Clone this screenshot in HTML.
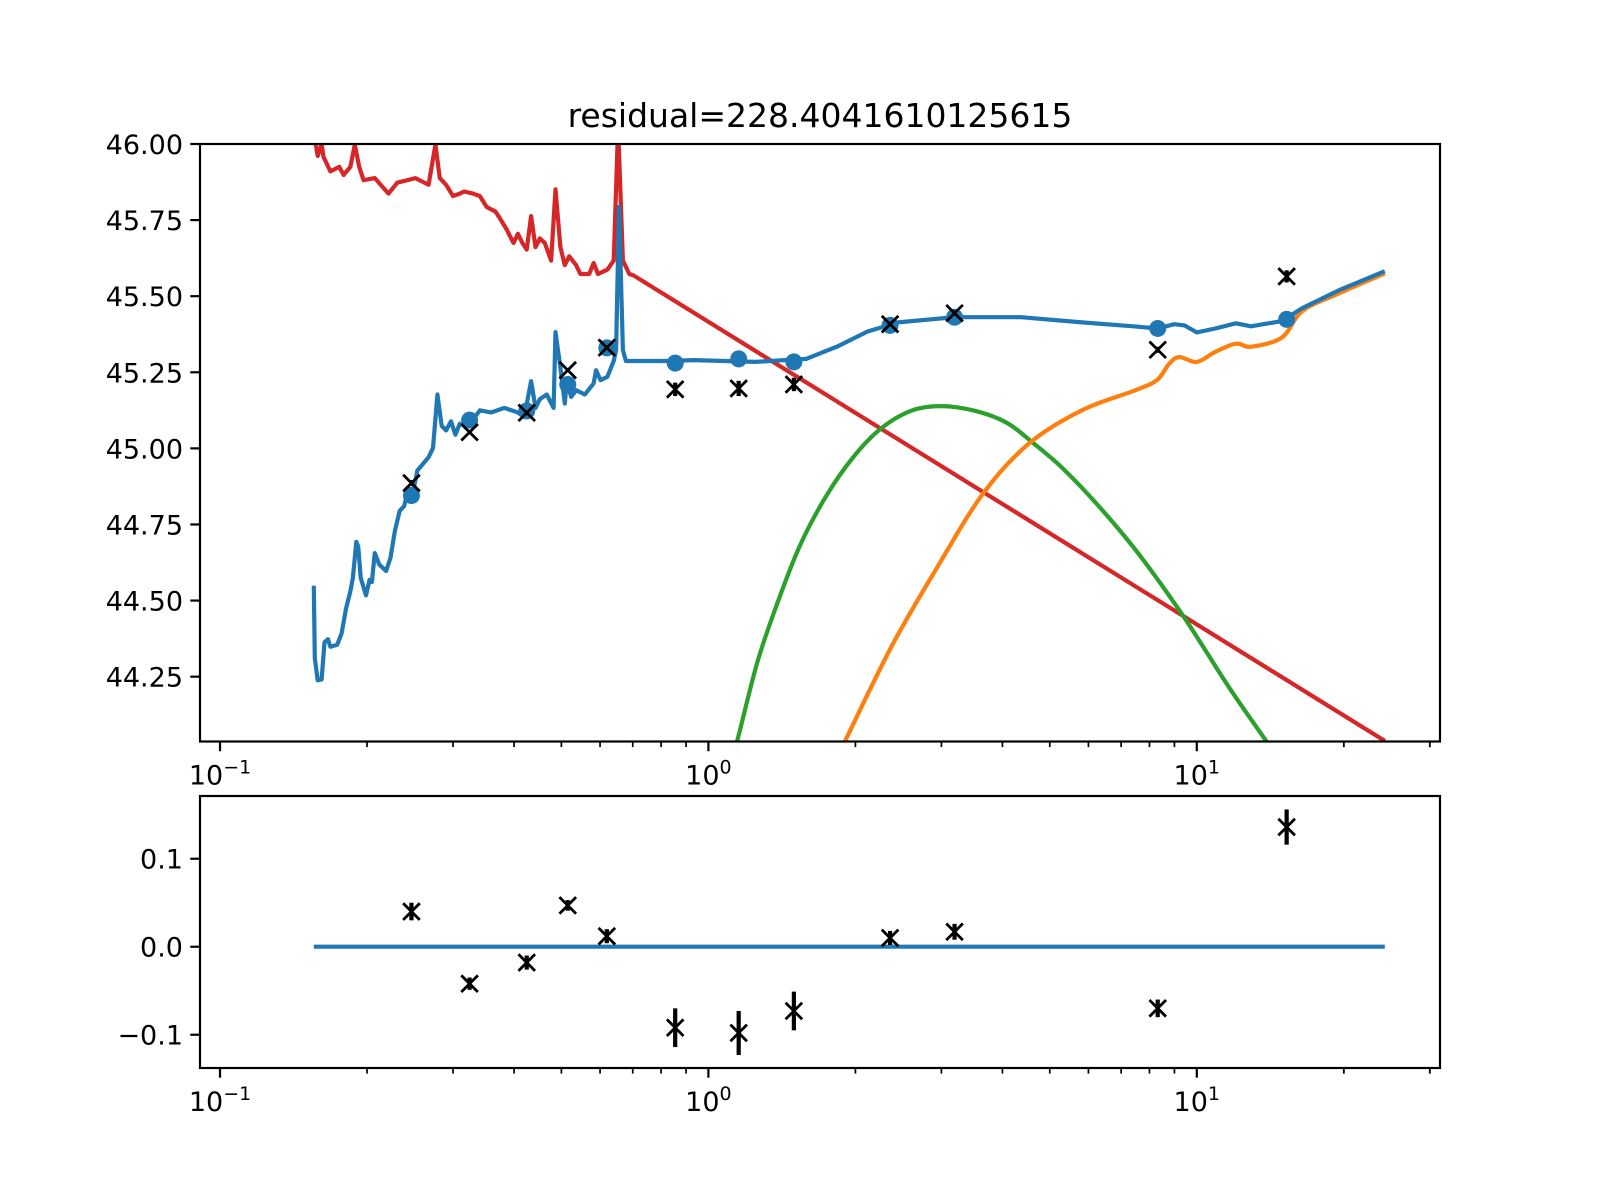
<!DOCTYPE html>
<html><head><meta charset="utf-8">
<style>
html,body{margin:0;padding:0;background:#fff;}
svg{display:block;font-family:"DejaVu Sans","Liberation Sans",sans-serif;}
</style></head>
<body>
<svg id="fig" width="1600" height="1200" viewBox="0 0 1600 1200" xmlns="http://www.w3.org/2000/svg">
<rect width="1600" height="1200" fill="#fff"/>
<defs>
<clipPath id="clipMain"><rect x="200" y="144" width="1240" height="597.5"/></clipPath>
<clipPath id="clipLow"><rect x="200" y="796" width="1240" height="272"/></clipPath>
</defs>
<text x="820" y="127" font-size="33" text-anchor="middle">residual=228.4041610125615</text>
<g id="main"></g>
<g id="low"></g>
</svg>
<script>
// ---- data (x stored as log10 of wavelength) ----
const pointLogX = [-0.608,-0.489,-0.372,-0.288,-0.208,-0.068,0.062,0.175,0.372,0.504,0.920,1.184];
const modelY = [44.845,45.093,45.123,45.21,45.33,45.28,45.294,45.284,45.404,45.431,45.394,45.424];
const obsY = [44.886,45.053,45.117,45.257,45.331,45.194,45.197,45.21,45.408,45.444,45.324,45.565];
const residY = [0.04,-0.042,-0.018,0.047,0.012,-0.092,-0.098,-0.073,0.01,0.017,-0.07,0.136];
const errY = [0.01,0.007,0.008,0.006,0.008,0.022,0.025,0.022,0.008,0.009,0.01,0.02];

const blueLogX = [-0.808,-0.806,-0.800,-0.792,-0.786,-0.779,-0.774,-0.760,-0.751,-0.742,-0.733,-0.728,-0.721,-0.717,-0.712,-0.701,-0.694,-0.689,-0.683,-0.674,-0.660,-0.651,-0.642,-0.632,-0.623,-0.614,-0.605,-0.596,-0.573,-0.564,-0.555,-0.546,-0.537,-0.527,-0.518,-0.509,-0.491,-0.468,-0.445,-0.418,-0.390,-0.377,-0.363,-0.354,-0.345,-0.331,-0.317,-0.313,-0.303,-0.294,-0.290,-0.281,-0.271,-0.253,-0.235,-0.230,-0.221,-0.207,-0.194,-0.189,-0.183,-0.175,-0.169,-0.162,-0.153,-0.080,-0.030,0.095,0.200,0.263,0.326,0.388,0.504,0.640,0.765,0.870,0.920,0.954,0.975,1.000,1.038,1.080,1.111,1.174,1.216,1.289,1.385];
const blueY = [44.549,44.311,44.238,44.241,44.363,44.373,44.348,44.355,44.392,44.473,44.531,44.575,44.693,44.678,44.575,44.517,44.568,44.561,44.656,44.619,44.597,44.641,44.729,44.795,44.810,44.869,44.854,44.927,44.971,45.001,45.177,45.074,45.059,45.089,45.045,45.081,45.074,45.125,45.118,45.133,45.118,45.103,45.221,45.133,45.162,45.177,45.133,45.382,45.265,45.147,45.221,45.169,45.191,45.177,45.213,45.257,45.224,45.235,45.287,45.323,45.793,45.323,45.287,45.287,45.287,45.287,45.290,45.284,45.294,45.334,45.384,45.414,45.431,45.431,45.414,45.401,45.394,45.408,45.404,45.381,45.394,45.411,45.401,45.418,45.461,45.518,45.582];

const redLogX = [-0.808,-0.804,-0.800,-0.792,-0.788,-0.774,-0.756,-0.747,-0.733,-0.724,-0.715,-0.706,-0.683,-0.655,-0.637,-0.600,-0.573,-0.559,-0.550,-0.537,-0.523,-0.509,-0.500,-0.482,-0.468,-0.454,-0.436,-0.427,-0.413,-0.404,-0.399,-0.390,-0.381,-0.372,-0.363,-0.354,-0.345,-0.335,-0.322,-0.313,-0.303,-0.294,-0.285,-0.271,-0.262,-0.244,-0.235,-0.226,-0.207,-0.194,-0.185,-0.175,-0.162,-0.153,1.385];
const redY = [46.10,46.001,45.961,45.998,45.957,45.910,45.925,45.898,45.925,45.998,45.925,45.881,45.888,45.837,45.873,45.888,45.866,45.998,45.888,45.866,45.829,45.837,45.844,45.837,45.829,45.793,45.778,45.756,45.719,45.690,45.675,45.705,45.675,45.653,45.763,45.661,45.690,45.675,45.617,45.851,45.661,45.602,45.631,45.602,45.573,45.573,45.609,45.573,45.587,45.617,46.057,45.617,45.573,45.568,44.039];

const greenLogX = [0.045,0.059,0.100,0.139,0.187,0.241,0.296,0.351,0.414,0.476,0.547,0.610,0.664,0.727,0.805,0.884,0.974,1.064,1.142,1.155];
const greenY = [43.97,44.039,44.296,44.482,44.679,44.843,44.970,45.062,45.123,45.139,45.123,45.085,45.019,44.932,44.800,44.647,44.445,44.220,44.039,44.01];

const orangeLogX = [0.270,0.280,0.375,0.469,0.563,0.657,0.766,0.876,0.919,0.943,0.964,1.000,1.038,1.080,1.111,1.174,1.216,1.289,1.385];
const orangeY = [44.00,44.039,44.349,44.611,44.853,45.017,45.126,45.192,45.225,45.277,45.300,45.284,45.317,45.344,45.334,45.364,45.451,45.508,45.575];

const mainTicks = [44.25,44.50,44.75,45.00,45.25,45.50,45.75,46.00];
const lowTicks = [-0.1,0.0,0.1];
const decades = [-1,0,1];

// ---- axes ----
const X0=200, X1=1440, LX0=-1.041, LX1=1.498;
function sx(lx){return X0+(lx-LX0)/(LX1-LX0)*(X1-X0);}
const M={top:144,bot:741.5,y0:44.037,y1:46.0};
const L={top:796,bot:1068,y0:-0.1378,y1:0.1713};
function sy(A,v){return A.bot-(v-A.y0)/(A.y1-A.y0)*(A.bot-A.top);}
const NS='http://www.w3.org/2000/svg';
function mk(tag,attrs,parent){const e=document.createElementNS(NS,tag);for(const k in attrs)e.setAttribute(k,attrs[k]);parent.appendChild(e);return e;}
const C={blue:'#1f77b4',orange:'#ff7f0e',green:'#2ca02c',red:'#d62728'};

function line(parent,xs,ys,A,color,name,clip,smooth){
  const P=xs.map((x,i)=>[sx(x),sy(A,ys[i])]);
  let d='M'+P[0][0].toFixed(1)+','+P[0][1].toFixed(1);
  for(let i=1;i<P.length;i++){
    if(smooth){
      const p0=P[Math.max(0,i-2)],p1=P[i-1],p2=P[i],p3=P[Math.min(P.length-1,i+1)];
      const c1=[p1[0]+(p2[0]-p0[0])/6,p1[1]+(p2[1]-p0[1])/6];
      const c2=[p2[0]-(p3[0]-p1[0])/6,p2[1]-(p3[1]-p1[1])/6];
      d+='C'+c1[0].toFixed(1)+','+c1[1].toFixed(1)+' '+c2[0].toFixed(1)+','+c2[1].toFixed(1)+' '+p2[0].toFixed(1)+','+p2[1].toFixed(1);
    } else d+='L'+P[i][0].toFixed(1)+','+P[i][1].toFixed(1);
  }
  const p=mk('path',{d:d,fill:'none',stroke:color,'stroke-width':4.2,'stroke-linejoin':'round','clip-path':clip},parent);
  
  
}
function xmark(parent,cx,cy,name){
  const s=8.3;
  const p=mk('path',{d:`M${cx-s},${cy-s}L${cx+s},${cy+s}M${cx-s},${cy+s}L${cx+s},${cy-s}`,stroke:'#000','stroke-width':2.8,fill:'none'},parent);
  
  
}
function errbar(parent,cx,y1,y2,name){
  const p=mk('line',{x1:cx,x2:cx,y1:y1,y2:y2,stroke:'#000','stroke-width':4.2},parent);
  
  
}
function frame(parent,A,name){
  const r=mk('rect',{x:X0,y:A.top,width:X1-X0,height:A.bot-A.top,fill:'none',stroke:'#000','stroke-width':2.2},parent);
  
  
  decades.forEach(dk=>{
    const x=sx(dk);
    mk('line',{x1:x,x2:x,y1:A.bot,y2:A.bot+9.7,stroke:'#000','stroke-width':2.2},parent);
    const t=mk('text',{x:x,y:A.bot+43,'font-size':27,'text-anchor':'middle'},parent);
    
    
    t.appendChild(document.createTextNode('10'));
    const sp=mk('tspan',{dy:-11,'font-size':19},t);
    sp.textContent=(dk<0?'\u2212':'')+Math.abs(dk);
    for(let m=2;m<=9;m++){
      const lx=dk+Math.log10(m);
      if(lx>LX1)break;
      const xm=sx(lx);
      mk('line',{x1:xm,x2:xm,y1:A.bot,y2:A.bot+5.6,stroke:'#000','stroke-width':1.7},parent);
    }
  });
  for(let m=2;m<=3;m++){const xm=sx(1+Math.log10(m));mk('line',{x1:xm,x2:xm,y1:A.bot,y2:A.bot+5.6,stroke:'#000','stroke-width':1.7},parent);}
}
function yticks(parent,A,ticks,fmt){
  ticks.forEach(v=>{
    const y=sy(A,v);
    mk('line',{x1:X0-9.7,x2:X0,y1:y,y2:y,stroke:'#000','stroke-width':2.2},parent);
    const t=mk('text',{x:X0-17,y:y+10,'font-size':27,'text-anchor':'end'},parent);
    
    
    t.textContent=fmt(v);
  });
}

// ---- main panel ----
const gm=document.getElementById('main');
line(gm,redLogX,redY,M,C.red,'powerlaw-component-line','url(#clipMain)',false);
line(gm,greenLogX,greenY,M,C.green,'blackbody-component-line','url(#clipMain)',true);
line(gm,orangeLogX,orangeY,M,C.orange,'dust-component-line','url(#clipMain)',true);
line(gm,blueLogX,blueY,M,C.blue,'total-model-line','url(#clipMain)',false);
pointLogX.forEach((lx,i)=>{
  const c=mk('circle',{cx:sx(lx),cy:sy(M,modelY[i]),r:8.5,fill:C.blue},gm);
  
  
});
pointLogX.forEach((lx,i)=>{
  const cx=sx(lx), cy=sy(M,obsY[i]);
  errbar(gm,cx,sy(M,obsY[i]+errY[i]),sy(M,obsY[i]-errY[i]),'observed-errorbar');
  xmark(gm,cx,cy,'observed-point');
});
frame(gm,M,'main-axes-frame');
yticks(gm,M,mainTicks,v=>v.toFixed(2));

// ---- residual panel ----
const gl=document.getElementById('low');
line(gl,[blueLogX[0],blueLogX[blueLogX.length-1]],[0,0],L,C.blue,'zero-line','url(#clipLow)',false);
pointLogX.forEach((lx,i)=>{
  const cx=sx(lx), cy=sy(L,residY[i]);
  errbar(gl,cx,sy(L,residY[i]+errY[i]),sy(L,residY[i]-errY[i]),'residual-errorbar');
  xmark(gl,cx,cy,'residual-point');
});
frame(gl,L,'residual-axes-frame');
yticks(gl,L,lowTicks,v=>(v<0?'\u2212':'')+Math.abs(v).toFixed(1));
</script>
</body></html>
